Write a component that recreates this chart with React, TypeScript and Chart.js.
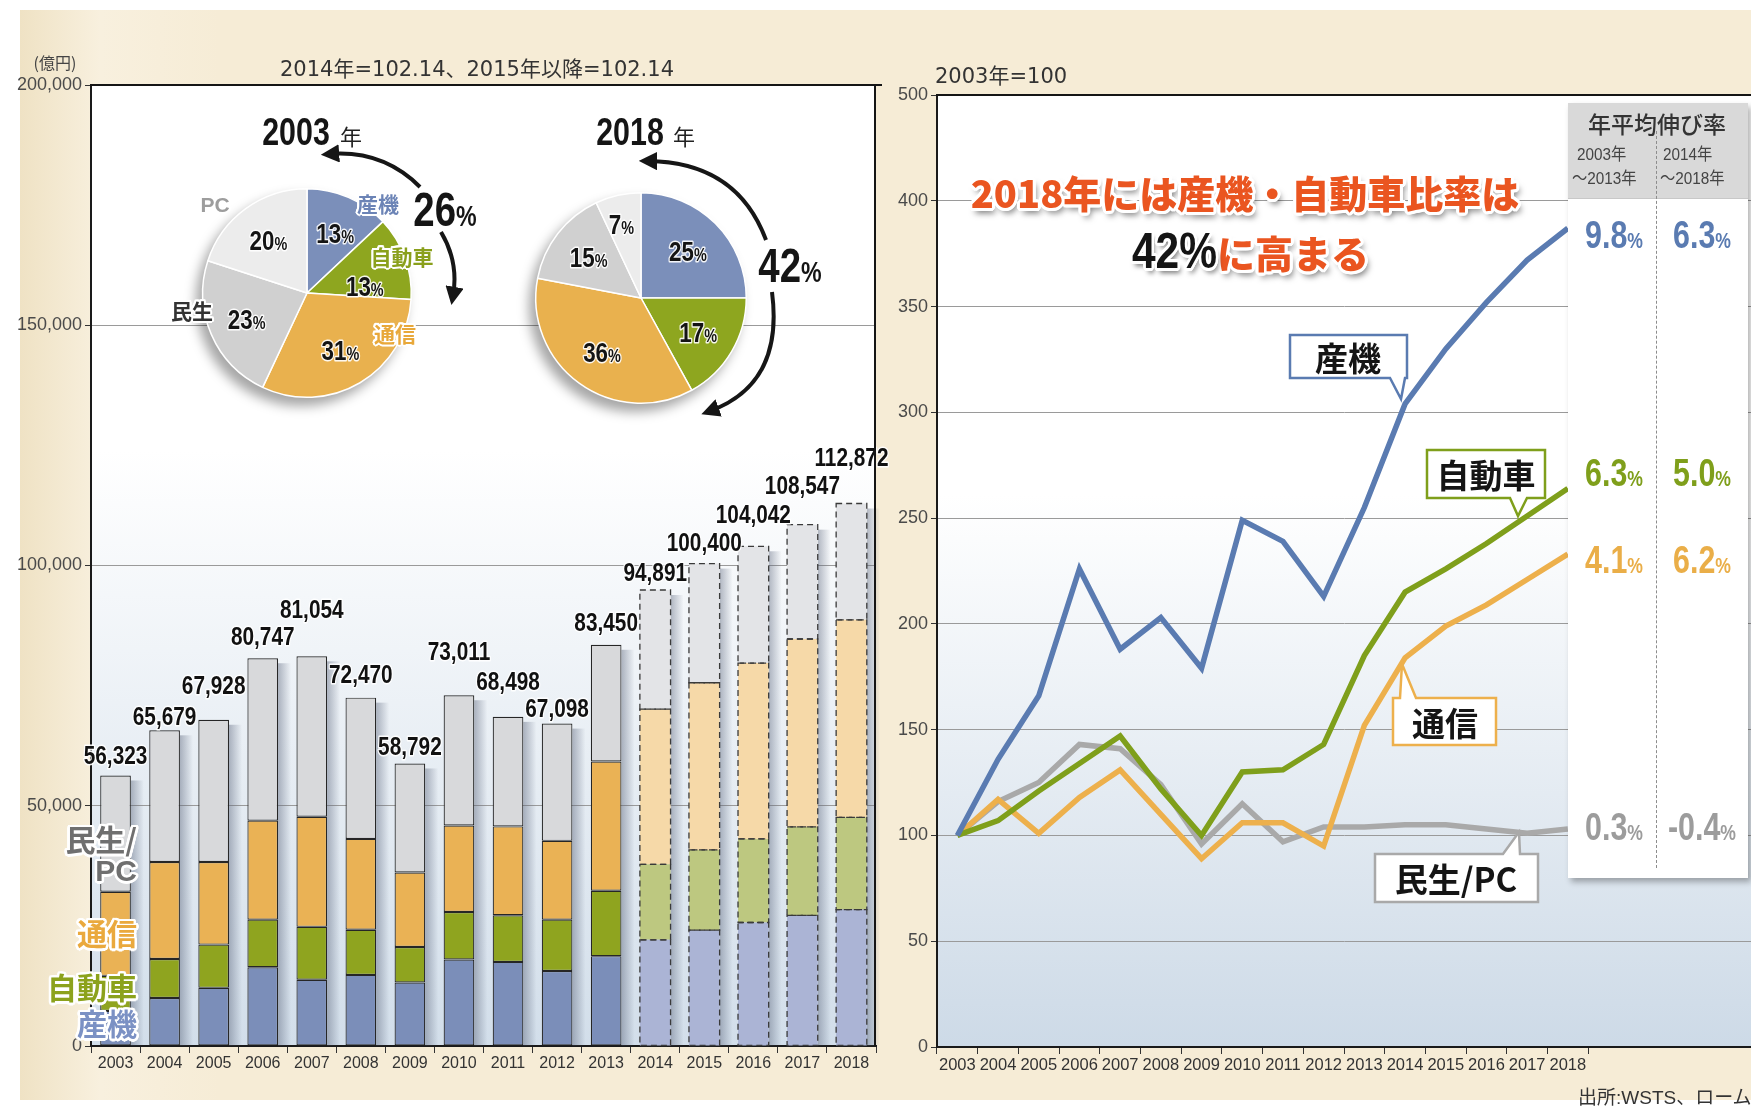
import React, { useEffect, useRef } from 'react';
import { Chart, registerables } from 'chart.js';

Chart.register(...registerables);

// ---------------- data ----------------
const years = ['2003', '2004', '2005', '2006', '2007', '2008', '2009', '2010', '2011', '2012', '2013', '2014', '2015', '2016', '2017', '2018'];
const forecastStartYear = '2014';

// stacked bar segments (億円)
const sankiValues = [7300, 10000, 12100, 16400, 13800, 14800, 13200, 18000, 17500, 15600, 18700, 22100, 24100, 25700, 27200, 28400];
const jidoshaValues = [7300, 8100, 9000, 9900, 11000, 9400, 7400, 9900, 9700, 10700, 13600, 15700, 16700, 17400, 18400, 19200];
const tsushinValues = [17500, 20200, 17200, 20600, 22900, 18900, 15500, 18000, 18500, 16400, 26900, 32300, 34800, 36600, 39100, 41100];
const minseiPcValues = [24200, 27400, 29600, 33800, 33400, 29400, 22700, 27100, 22800, 24400, 24300, 24800, 24800, 24300, 23800, 24200];
const totalValues = [56323, 65679, 67928, 80747, 81054, 72470, 58792, 73011, 68498, 67098, 83450, 94891, 100400, 104042, 108547, 112872];

const leftTickLabels = ['0', '50,000', '100,000', '150,000', '200,000'];
const rightTickLabels = ['0', '50', '100', '150', '200', '250', '300', '350', '400', '500'];

// index lines (2003 = 100)
const sankiIndex = [100, 136, 166, 226, 188, 203, 179, 249, 239, 213, 255, 304, 330, 352, 372, 387];
const jidoshaIndex = [100, 107, 121, 134, 147, 122, 100, 130, 131, 143, 185, 215, 226, 238, 251, 264];
const tsushinIndex = [100, 117, 101, 118, 131, 110, 89, 106, 106, 95, 152, 184, 199, 209, 221, 233];
const minseiPcIndex = [100, 116, 125, 143, 141, 124, 96, 115, 97, 104, 104, 105, 105, 103, 101, 103];

// pies (%)
const pieCategories = ['産機', '自動車', '通信', '民生', 'PC'];
const pie2003 = [13, 13, 31, 23, 20];
const pie2018 = [25, 17, 36, 15, 7];

// growth table
const growth2003to2013 = ['9.8', '6.3', '4.1', '0.3'];
const growth2014to2018 = ['6.3', '5.0', '6.2', '-0.4'];

// ---------------- styles ----------------
const JP = '"Noto Sans CJK JP", "Noto Sans", sans-serif';
const SANS = '"Liberation Sans", Arial, "Noto Sans CJK JP", sans-serif';
const DEJAVU = '"DejaVu Sans", "Noto Sans CJK JP", sans-serif';
const COND = 0.8; // horizontal squeeze used to imitate a condensed face

const SOLID = ['#7b8eb9', '#8fa41f', '#eab255', '#d8d9db'];
const LIGHT = ['#abb4d5', '#bdc880', '#f6d9a8', '#e3e4e7'];
const LINE = ['#5a7bb1', '#7f9f1b', '#edb04c', '#a9a9a9'];
const TABLE_COLORS = ['#5a7bb1', '#7f9f1b', '#eaae48', '#9c9c9c'];
const PIE_COLORS = ['#7b8fba', '#8ea61f', '#e9b14e', '#d0d0d0', '#ececec'];
const totalLabelLift = [19, 12, 33, 20, 45, 22, 16, 42, 34, 14, 21, 16, 20, 30, 38, 45];
const pieLabelNudgeA: [number, number][] = [[2, 0], [-4, 15], [0, 0], [0, 0], [0, 0]];
const pieLabelNudgeB: [number, number][] = [[0, 0], [0, 0], [0, 0], [0, 0], [-3, 0]];

const plotBg = (stops: [number, string][]) => ({
  id: 'plotBg',
  beforeDraw(chart: any) {
    const { ctx, chartArea: a } = chart;
    const g = ctx.createLinearGradient(0, a.top, 0, a.bottom);
    stops.forEach(([o, c]) => g.addColorStop(o, c));
    ctx.save();
    ctx.fillStyle = g;
    ctx.fillRect(a.left, a.top, a.right - a.left, a.bottom - a.top);
    ctx.restore();
  },
});

const frame = (right: boolean) => ({
  id: 'frame',
  afterDraw(chart: any) {
    const { ctx, chartArea: a } = chart;
    ctx.save();
    ctx.strokeStyle = '#151515';
    ctx.lineWidth = 2;
    ctx.beginPath();
    ctx.moveTo(a.left - 1, a.top);
    ctx.lineTo(a.right, a.top);
    if (right) {
      ctx.moveTo(a.right - 1, a.top);
      ctx.lineTo(a.right - 1, a.bottom);
      ctx.moveTo(a.right - 1, a.top);
      ctx.lineTo(a.right + 6, a.top);
    }
    ctx.stroke();
    ctx.restore();
  },
});

function condText(ctx: CanvasRenderingContext2D, txt: string, x: number, y: number, halo: number) {
  ctx.save();
  ctx.translate(x, y);
  ctx.scale(COND, 1);
  if (halo > 0) {
    ctx.lineJoin = 'round';
    ctx.lineWidth = halo;
    ctx.strokeStyle = 'rgba(255,255,255,0.9)';
    ctx.strokeText(txt, 0, 0);
  }
  ctx.fillText(txt, 0, 0);
  ctx.restore();
}

const fi = years.indexOf(forecastStartYear);

const barDeco = {
  id: 'barDeco',
  beforeDatasetsDraw(chart: any) {
    const ctx = chart.ctx;
    const n = chart.data.datasets.length;
    const topMeta = chart.getDatasetMeta(n - 1);
    const botMeta = chart.getDatasetMeta(0);
    ctx.save();
    topMeta.data.forEach((el: any, i: number) => {
      const p = el.getProps(['x', 'y', 'width'], true);
      const base = botMeta.data[i].getProps(['base'], true).base;
      const sx = p.x + p.width / 2;
      const g = ctx.createLinearGradient(sx, 0, sx + 13, 0);
      g.addColorStop(0, 'rgba(90,100,122,0.45)');
      g.addColorStop(1, 'rgba(90,100,122,0)');
      ctx.fillStyle = g;
      ctx.fillRect(sx, p.y + 5, 13, base - p.y - 5);
    });
    ctx.restore();
  },
  afterDatasetsDraw(chart: any) {
    const ctx = chart.ctx;
    const n = chart.data.datasets.length;
    ctx.save();
    ctx.setLineDash([6, 4]);
    ctx.strokeStyle = '#3a3a3a';
    ctx.lineWidth = 1.3;
    for (let d = 0; d < n; d++) {
      const meta = chart.getDatasetMeta(d);
      meta.data.forEach((el: any, i: number) => {
        if (i < fi) return;
        const p = el.getProps(['x', 'y', 'base', 'width'], true);
        ctx.strokeRect(p.x - p.width / 2, p.y, p.width, p.base - p.y);
      });
    }
    ctx.setLineDash([]);
    const topMeta = chart.getDatasetMeta(n - 1);
    ctx.font = `bold 26px ${SANS}`;
    ctx.textAlign = 'center';
    ctx.textBaseline = 'middle';
    ctx.fillStyle = '#111';
    topMeta.data.forEach((el: any, i: number) => {
      const p = el.getProps(['x', 'y'], true);
      condText(ctx, totalValues[i].toLocaleString('en-US'), p.x, p.y - totalLabelLift[i], 3);
    });
    ctx.restore();
  },
};

function drawPct(ctx: CanvasRenderingContext2D, num: string, x: number, y: number, big: number, small: number) {
  ctx.save();
  ctx.textBaseline = 'alphabetic';
  ctx.textAlign = 'left';
  ctx.font = `bold ${big}px ${SANS}`;
  const w1 = ctx.measureText(num).width * COND;
  ctx.font = `bold ${small}px ${SANS}`;
  const w2 = ctx.measureText('%').width * COND;
  const x0 = x - (w1 + w2) / 2;
  const base = y + big * 0.36;
  ctx.fillStyle = '#141414';
  ctx.font = `bold ${big}px ${SANS}`;
  condText(ctx, num, x0, base, 3);
  ctx.font = `bold ${small}px ${SANS}`;
  condText(ctx, '%', x0 + w1, base, 3);
  ctx.restore();
}

const pieLabelPlugin = (nudge: [number, number][]) => ({
  id: 'pieLabels',
  afterDatasetsDraw(chart: any) {
    const ctx = chart.ctx;
    const meta = chart.getDatasetMeta(0);
    const vals = chart.data.datasets[0].data;
    meta.data.forEach((arc: any, i: number) => {
      const p = arc.getProps(['x', 'y', 'startAngle', 'endAngle', 'outerRadius'], true);
      const mid = (p.startAngle + p.endAngle) / 2;
      const frac = vals[i] < 10 ? 0.72 : 0.63;
      const r = p.outerRadius * frac;
      drawPct(ctx, String(vals[i]), p.x + Math.cos(mid) * r + nudge[i][0], p.y + Math.sin(mid) * r + nudge[i][1], 28, 18);
    });
  },
});

// ---------------- helpers ----------------
type TP = {
  x: number; y: number; size: number; color?: string; weight?: number; family?: string;
  align?: 'left' | 'center' | 'right'; halo?: number; haloColor?: string; shadow?: string; sx?: number;
  spacing?: number; children: React.ReactNode;
};
function Txt({ x, y, size, color = '#222', weight = 400, family = JP, align = 'center', halo = 0, haloColor = '#fff', shadow, sx = 1, spacing, children }: TP) {
  const tx = align === 'center' ? '-50%' : align === 'right' ? '-100%' : '0';
  const ox = align === 'center' ? '50%' : align === 'right' ? '100%' : '0';
  const sh: string[] = [];
  if (halo) {
    for (let k = 0; k < 16; k++) {
      const t = (k / 16) * Math.PI * 2;
      sh.push(`${(Math.cos(t) * halo).toFixed(2)}px ${(Math.sin(t) * halo).toFixed(2)}px 0 ${haloColor}`);
    }
  }
  if (shadow) sh.push(shadow);
  return (
    <div
      style={{
        position: 'absolute', left: x, top: y, transform: `translate(${tx},-50%) scaleX(${sx})`, transformOrigin: `${ox} 50%`,
        fontSize: size, color, fontWeight: weight as any, fontFamily: family, lineHeight: 1, whiteSpace: 'nowrap',
        letterSpacing: spacing, textShadow: sh.length ? sh.join(',') : undefined,
      }}
    >
      {children}
    </div>
  );
}

const Pct = ({ n, small }: { n: string; small: number }) => (
  <>
    {n}
    <span style={{ fontSize: small }}>%</span>
  </>
);

function callout(x0: number, y0: number, x1: number, y1: number, side: 'top' | 'bottom', b1: number, b2: number, tx: number, ty: number) {
  if (side === 'bottom') return `M${x0},${y0} H${x1} V${y1} H${b2} L${tx},${ty} L${b1},${y1} H${x0} Z`;
  return `M${x0},${y0} H${b1} L${tx},${ty} L${b2},${y0} H${x1} V${y1} H${x0} Z`;
}

export default function App() {
  const barRef = useRef<HTMLCanvasElement>(null);
  const lineRef = useRef<HTMLCanvasElement>(null);
  const pieARef = useRef<HTMLCanvasElement>(null);
  const pieBRef = useRef<HTMLCanvasElement>(null);

  useEffect(() => {
    const charts: Chart[] = [];
    const seg = (label: string, data: number[], k: number) => ({
      label, data,
      backgroundColor: (c: any) => (c.dataIndex >= fi ? LIGHT[k] : SOLID[k]),
      borderColor: '#262626',
      borderWidth: (c: any) => (c.dataIndex >= fi ? 0 : 1.2),
      borderSkipped: false,
      barPercentage: 0.625,
      categoryPercentage: 1,
    });

    charts.push(new Chart(barRef.current!, {
      type: 'bar',
      data: {
        labels: years,
        datasets: [
          seg('産機', sankiValues, 0),
          seg('自動車', jidoshaValues, 1),
          seg('通信', tsushinValues, 2),
          seg('民生/PC', minseiPcValues, 3),
        ] as any,
      },
      options: {
        animation: false, responsive: false, maintainAspectRatio: false,
        layout: { padding: { top: 85, right: 14, left: 0, bottom: 0 } },
        plugins: { legend: { display: false }, tooltip: { enabled: false } },
        scales: {
          x: {
            stacked: true,
            grid: { display: true, drawOnChartArea: false, drawTicks: true, tickLength: 7, tickColor: '#333', offset: true },
            border: { display: true, color: '#1a1a1a', width: 2 },
            ticks: { font: { family: SANS, size: 16 }, color: '#333', padding: 1, maxRotation: 0, autoSkip: false },
            afterFit: (s: any) => { s.height = 60; },
          },
          y: {
            stacked: true, min: 0, max: 200000,
            ticks: { stepSize: 50000, font: { family: SANS, size: 18 }, color: '#4a4a4a', padding: 3, callback: (_v: any, i: number) => leftTickLabels[i] },
            grid: {
              color: (c: any) => (c.tick && (c.tick.value === 0 || c.tick.value === 200000) ? 'rgba(0,0,0,0)' : '#9a9a9a'),
              lineWidth: 1, tickLength: 6, tickColor: '#333',
            },
            border: { display: true, color: '#1a1a1a', width: 2 },
            afterFit: (s: any) => { s.width = 91; },
          },
        },
      } as any,
      plugins: [plotBg([[0, '#ffffff'], [0.38, '#ffffff'], [1, '#d2deea']]), barDeco, frame(true)],
    }));

    const ln = (label: string, data: number[], k: number) => ({
      label, data, borderColor: LINE[k], borderWidth: 5.5, pointRadius: 0, tension: 0,
      borderJoinStyle: 'miter', borderCapStyle: 'butt', fill: false,
    });
    charts.push(new Chart(lineRef.current!, {
      type: 'line',
      data: {
        labels: [...years, '', '', '', ''],
        datasets: [
          ln('産機', sankiIndex, 0),
          ln('自動車', jidoshaIndex, 1),
          ln('通信', tsushinIndex, 2),
          ln('民生/PC', minseiPcIndex, 3),
        ] as any,
      },
      options: {
        animation: false, responsive: false, maintainAspectRatio: false,
        layout: { padding: { top: 95, right: 0, left: 0, bottom: 0 } },
        plugins: { legend: { display: false }, tooltip: { enabled: false } },
        scales: {
          x: {
            offset: true,
            grid: {
              display: true, drawOnChartArea: false, drawTicks: true, tickLength: 7, offset: true,
              tickColor: (c: any) => (c.index <= years.length ? '#333' : 'rgba(0,0,0,0)'),
            },
            border: { display: true, color: '#1a1a1a', width: 2 },
            ticks: { font: { family: SANS, size: 16.5 }, color: '#333', padding: 2, maxRotation: 0, autoSkip: false },
            afterFit: (s: any) => { s.height = 59; },
          },
          y: {
            min: 0, max: 450,
            ticks: { stepSize: 50, font: { family: SANS, size: 18 }, color: '#4a4a4a', padding: 3, callback: (_v: any, i: number) => rightTickLabels[i] },
            grid: {
              color: (c: any) => (c.tick && (c.tick.value === 0 || c.tick.value === 450) ? 'rgba(0,0,0,0)' : '#9a9a9a'),
              lineWidth: 1, tickLength: 6, tickColor: '#333',
            },
            border: { display: true, color: '#1a1a1a', width: 2 },
            afterFit: (s: any) => { s.width = 57; },
          },
        },
      } as any,
      plugins: [plotBg([[0, '#ffffff'], [0.42, '#ffffff'], [1, '#cddae7']]), frame(false)],
    }));

    const pie = (el: HTMLCanvasElement, data: number[], nudge: [number, number][]) => new Chart(el, {
      type: 'pie',
      data: {
        labels: pieCategories,
        datasets: [{ data, backgroundColor: PIE_COLORS, borderColor: '#ffffff', borderWidth: 1.5 }],
      },
      options: {
        animation: false, responsive: false, maintainAspectRatio: false,
        layout: { padding: 14 },
        plugins: { legend: { display: false }, tooltip: { enabled: false } },
      } as any,
      plugins: [pieLabelPlugin(nudge)],
    });
    charts.push(pie(pieARef.current!, pie2003, pieLabelNudgeA));
    charts.push(pie(pieBRef.current!, pie2018, pieLabelNudgeB));

    return () => charts.forEach((c) => c.destroy());
  }, []);

  const pieShadow = 'drop-shadow(-6px 8px 6px rgba(0,0,0,0.35))';
  const titleShadow = '3px 5px 6px rgba(0,0,0,0.55)';

  return (
    <div style={{ position: 'absolute', left: 0, top: 0, width: 1751, height: 1106, background: '#ffffff', overflow: 'hidden' }}>
      <div style={{ position: 'absolute', left: 20, top: 10, right: 0, height: 1090, background: 'linear-gradient(90deg, #efe2c4 0px, #f8f0de 80px, #f6ecd6 200px, #f6ecd6 100%)' }} />

      <canvas ref={barRef} width={890} height={1106} style={{ position: 'absolute', left: 0, top: 0, display: 'block' }} />
      <canvas ref={lineRef} width={871} height={1106} style={{ position: 'absolute', left: 880, top: 0, display: 'block' }} />

      <canvas ref={pieARef} width={238} height={238} style={{ position: 'absolute', left: 307 - 119, top: 293 - 119, display: 'block', filter: pieShadow }} />
      <canvas ref={pieBRef} width={240} height={240} style={{ position: 'absolute', left: 641 - 120, top: 298 - 120, display: 'block', filter: pieShadow }} />

      <svg width={1751} height={1106} style={{ position: 'absolute', left: 0, top: 0, pointerEvents: 'none' }}>
        <defs>
          <marker id="ah" viewBox="0 0 10 10" refX="5" refY="5" markerWidth="4.6" markerHeight="4.6" orient="auto">
            <path d="M0,0 L10,5 L0,10 z" fill="#161616" />
          </marker>
        </defs>
        <g stroke="#161616" strokeWidth={4} fill="none">
          <path d="M 420 187 Q 383 150 330 154" markerEnd="url(#ah)" />
          <path d="M 441 232 Q 459 262 453 296" markerEnd="url(#ah)" />
          <path d="M 766 240 Q 737 162 648 161" markerEnd="url(#ah)" />
          <path d="M 772 292 Q 784 384 710 411" markerEnd="url(#ah)" />
        </g>
        <g strokeWidth={2.5} fill="#ffffff">
          <path d={callout(1290, 335, 1407, 378, 'bottom', 1390, 1405, 1401, 399)} stroke={LINE[0]} />
          <path d={callout(1427, 450, 1545, 498, 'bottom', 1510, 1527, 1518, 516)} stroke={LINE[1]} />
          <path d={callout(1393, 698, 1496, 745, 'top', 1400, 1416, 1402, 664)} stroke={LINE[2]} />
          <path d={callout(1375, 854, 1538, 902, 'top', 1503, 1520, 1519, 832)} stroke={LINE[3]} />
        </g>
        <g fontFamily={JP} fontWeight={700} fontSize={33} fill="#151515" textAnchor="middle" dominantBaseline="central">
          <text x={1348} y={357}>産機</text>
          <text x={1486} y={474}>自動車</text>
          <text x={1445} y={722}>通信</text>
          <text x={1456} y={878}>民生/PC</text>
        </g>
      </svg>

      {/* growth table */}
      <div style={{ position: 'absolute', left: 1568, top: 103, width: 180, height: 775, background: '#ffffff', boxShadow: '3px 4px 6px rgba(0,0,0,0.3)' }}>
        <div style={{ height: 95, background: '#d9d9d9', borderBottom: '1px solid #c8c8c8' }} />
        <div style={{ position: 'absolute', left: 88, top: 28, bottom: 10, borderLeft: '1.5px dashed #8c8c8c' }} />
      </div>
      <Txt x={1657} y={123} size={23} color="#333" weight={500}>年平均伸び率</Txt>
      <Txt x={1577} y={154} size={17} color="#444" align="left" family={SANS} sx={0.9}>2003年</Txt>
      <Txt x={1572} y={178} size={17} color="#444" align="left" family={SANS} sx={0.9}>～2013年</Txt>
      <Txt x={1663} y={154} size={17} color="#444" align="left" family={SANS} sx={0.9}>2014年</Txt>
      <Txt x={1660} y={178} size={17} color="#444" align="left" family={SANS} sx={0.9}>～2018年</Txt>
      {[235, 473, 560, 827].map((yy, k) => (
        <React.Fragment key={k}>
          <Txt x={1614} y={yy} size={38} color={TABLE_COLORS[k]} weight={700} family={SANS} sx={COND}><Pct n={growth2003to2013[k]} small={22} /></Txt>
          <Txt x={1702} y={yy} size={38} color={TABLE_COLORS[k]} weight={700} family={SANS} sx={COND}><Pct n={growth2014to2018[k]} small={22} /></Txt>
        </React.Fragment>
      ))}

      {/* left chart texts */}
      <Txt x={55} y={62} size={16} color="#444">(億円)</Txt>
      <Txt x={477} y={69} size={21} color="#333" family={DEJAVU}>2014年=102.14、2015年以降=102.14</Txt>

      <Txt x={296} y={132} size={38} color="#151515" weight={700} family={SANS} sx={COND}>2003</Txt>
      <Txt x={351} y={135} size={22} color="#222">年</Txt>
      <Txt x={630} y={132} size={38} color="#151515" weight={700} family={SANS} sx={COND}>2018</Txt>
      <Txt x={684} y={135} size={22} color="#222">年</Txt>
      <Txt x={445} y={210} size={48} color="#151515" weight={700} family={SANS} halo={2} sx={COND}><Pct n="26" small={29} /></Txt>
      <Txt x={790} y={266} size={48} color="#151515" weight={700} family={SANS} halo={2} sx={COND}><Pct n="42" small={29} /></Txt>

      <Txt x={215} y={204} size={21} color="#9d9d9d" weight={700} family={SANS} halo={2}>PC</Txt>
      <Txt x={378} y={203} size={21} color="#6c84b6" weight={700} halo={2}>産機</Txt>
      <Txt x={402} y={256} size={21} color="#8aa01c" weight={700} halo={2}>自動車</Txt>
      <Txt x={395} y={333} size={21} color="#e8a83a" weight={700} halo={2}>通信</Txt>
      <Txt x={192} y={310} size={21} color="#333" weight={700} halo={2}>民生</Txt>

      <Txt x={137} y={838} size={30} color="#6f6f6f" weight={700} align="right" halo={2.5}>民生/</Txt>
      <Txt x={137} y={871} size={30} color="#6f6f6f" weight={700} align="right" halo={2.5} family={SANS}>PC</Txt>
      <Txt x={137} y={932} size={30} color="#eaa93d" weight={700} align="right" halo={2.5}>通信</Txt>
      <Txt x={137} y={986} size={30} color="#8ca21c" weight={700} align="right" halo={2.5}>自動車</Txt>
      <Txt x={137} y={1022} size={30} color="#7b91c4" weight={700} align="right" halo={2.5}>産機</Txt>

      {/* right chart texts */}
      <Txt x={935} y={76} size={21} color="#333" align="left" family={DEJAVU}>2003年=100</Txt>
      <Txt x={1245} y={192} size={38} color="#ea5520" weight={900} halo={3} shadow={titleShadow}>2018年には産機・自動車比率は</Txt>
      <Txt x={1243} y={251} size={38} color="#ea5520" weight={900} halo={3} shadow={titleShadow}>
        <span style={{ display: 'inline-block', color: '#151515', fontFamily: SANS, fontSize: 50, fontWeight: 700, transform: 'scaleX(0.85)', transformOrigin: '100% 50%' }}>42%</span>に高まる
      </Txt>

      <Txt x={1578} y={1097} size={19} color="#333" align="left" family={SANS}>出所:WSTS、ローム</Txt>
    </div>
  );
}
